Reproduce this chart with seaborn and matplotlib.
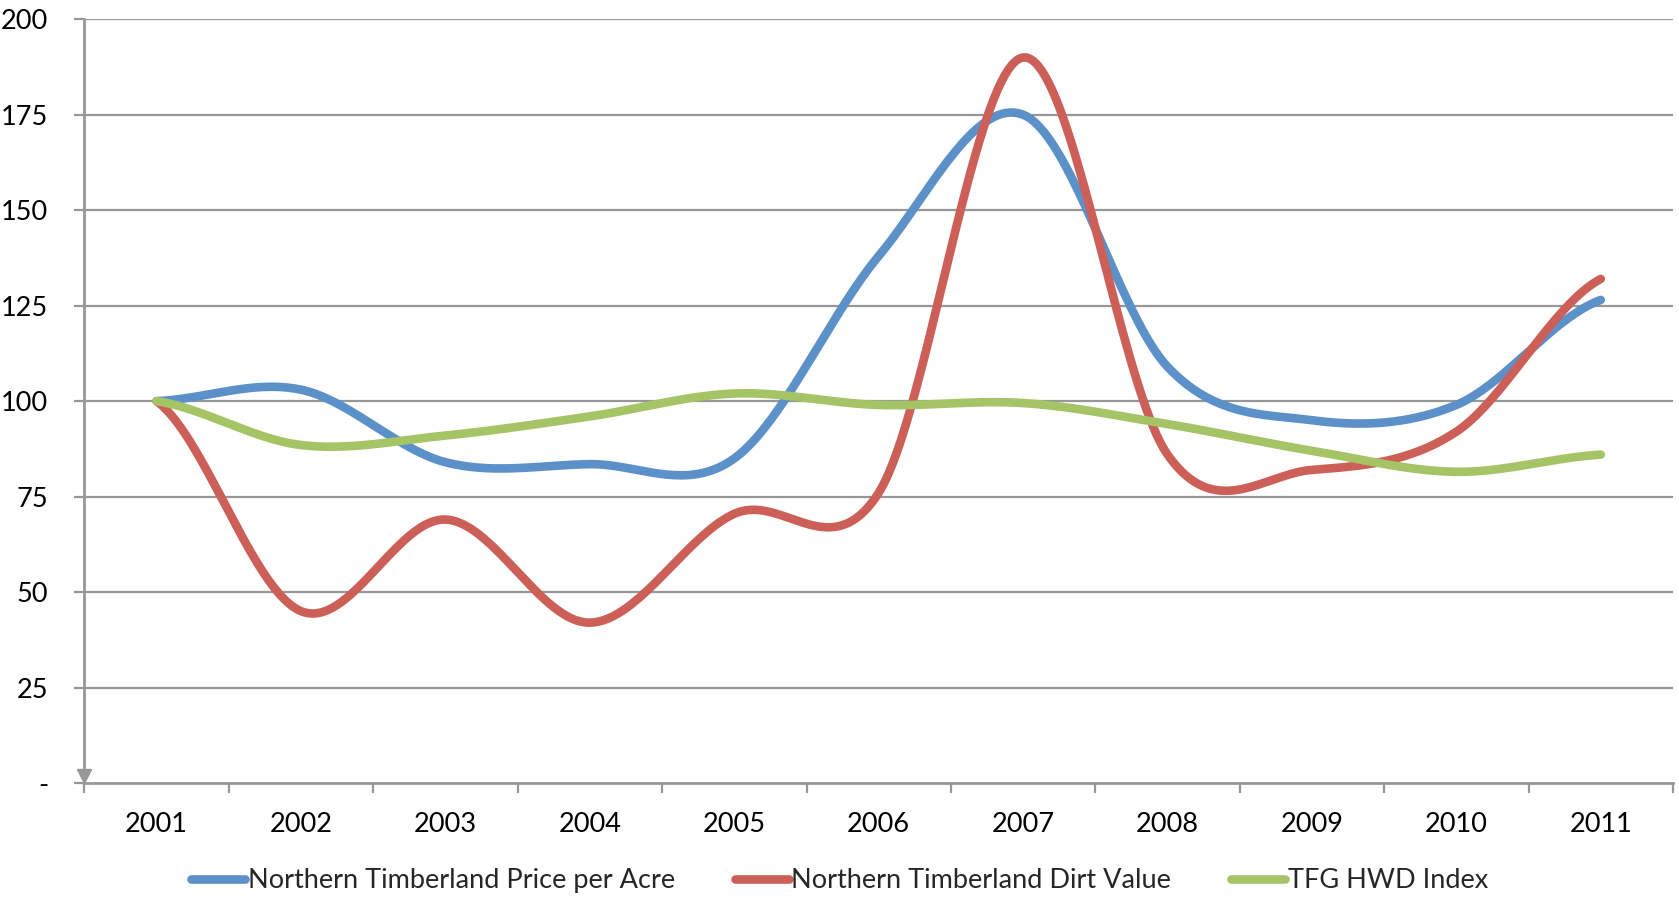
import numpy as np
import pandas as pd
import matplotlib
matplotlib.use("Agg")
import matplotlib.pyplot as plt
import matplotlib.transforms as mtransforms
from matplotlib.lines import Line2D
import seaborn as sns

# Index values (2001 = 100)
years = ["2001", "2002", "2003", "2004", "2005", "2006", "2007", "2008", "2009", "2010", "2011"]
price_per_acre = [100, 103, 84, 83.5, 85, 138, 175, 109, 95, 99, 126.5]
dirt_value = [100, 45, 69, 42, 70.5, 76, 190, 86, 82, 92, 132]
hwd_index = [100, 88.5, 91, 96, 102, 99, 99.5, 94, 87, 81.5, 86]

series_names = ["Northern Timberland Price per Acre",
                "Northern Timberland Dirt Value",
                "TFG HWD Index"]
series_values = [price_per_acre, dirt_value, hwd_index]
colors = ["#5B90C9", "#CC6058", "#A4C466"]

y_ticks = [0, 25, 50, 75, 100, 125, 150, 175, 200]
y_labels = ["-", "25", "50", "75", "100", "125", "150", "175", "200"]


def smooth_curve(values, steps=40):
    """Cubic Bezier smoothing through every point (spreadsheet-style smoothed line)."""
    y = np.asarray(values, dtype=float)
    m = len(y)
    ext = np.concatenate([[y[0]], y, [y[-1]]])
    xs, ys = [], []
    for i in range(m - 1):
        p0, p3 = y[i], y[i + 1]
        p1 = p0 + (ext[i + 2] - ext[i]) / 6.0
        p2 = p3 - (ext[i + 3] - ext[i + 1]) / 6.0
        t = np.linspace(0, 1, steps, endpoint=(i == m - 2))
        b = ((1 - t) ** 3 * p0 + 3 * (1 - t) ** 2 * t * p1
             + 3 * (1 - t) * t ** 2 * p2 + t ** 3 * p3)
        xs.append(i + t)
        ys.append(b)
    return np.concatenate(xs), np.concatenate(ys)


frames = []
for name, vals in zip(series_names, series_values):
    sx, sy = smooth_curve(vals)
    frames.append(pd.DataFrame({"x": sx, "value": sy, "series": name}))
df = pd.concat(frames, ignore_index=True)

sns.set_style("white")
plt.rcParams["font.family"] = ["Lato", "DejaVu Sans"]

grey = "#979797"
fig = plt.figure(figsize=(16.79, 8.98), dpi=100)
ax = fig.add_axes([0.0503, 0.128, 0.9461, 0.8506])

ax.set_ylim(0, 200)
ax.set_xlim(-0.5, len(years) - 0.5)
for yv in y_ticks[1:]:
    ax.axhline(yv, color=grey, lw=1.6, zorder=0)

sns.lineplot(data=df, x="x", y="value", hue="series", hue_order=series_names,
             palette=colors, sort=False, estimator=None, linewidth=6.2,
             legend=False, ax=ax, solid_capstyle="round")

# axes styling
for side in ["top", "right"]:
    ax.spines[side].set_visible(False)
for side in ["left", "bottom"]:
    ax.spines[side].set_color(grey)
    ax.spines[side].set_linewidth(2.0)

ax.set_yticks(y_ticks)
ax.set_yticklabels(y_labels)
ax.tick_params(axis="y", length=7, width=1.6, color=grey, pad=19,
               labelsize=19.5, labelcolor="black", direction="out", left=True)

ax.set_xticks(range(len(years)))
ax.set_xticklabels(years)
ax.set_xticks(np.arange(-0.5, len(years), 1.0), minor=True)
ax.tick_params(axis="x", which="major", length=0, pad=21, labelsize=19.5,
               labelcolor="black")
ax.tick_params(axis="x", which="minor", length=7, width=1.6, color=grey,
               direction="out", bottom=True)
ax.set_xlabel("")
ax.set_ylabel("")

# arrow head at the foot of the value axis
arrow_tr = mtransforms.offset_copy(ax.transData, fig=fig, y=7, units="dots")
ax.plot([-0.5], [0], marker="v", markersize=10.5, color=grey,
        transform=arrow_tr, clip_on=False, zorder=5)

handles = [Line2D([0], [0], color=c, lw=6.2, solid_capstyle="round")
           for c in colors]
fig.legend(handles, series_names, loc="center", bbox_to_anchor=(0.5, 0.019),
           ncol=3, frameon=False, fontsize=19.5, handlelength=2.0,
           handletextpad=0.1, columnspacing=2.2)

fig.savefig("out.png", dpi=100, facecolor="white")
